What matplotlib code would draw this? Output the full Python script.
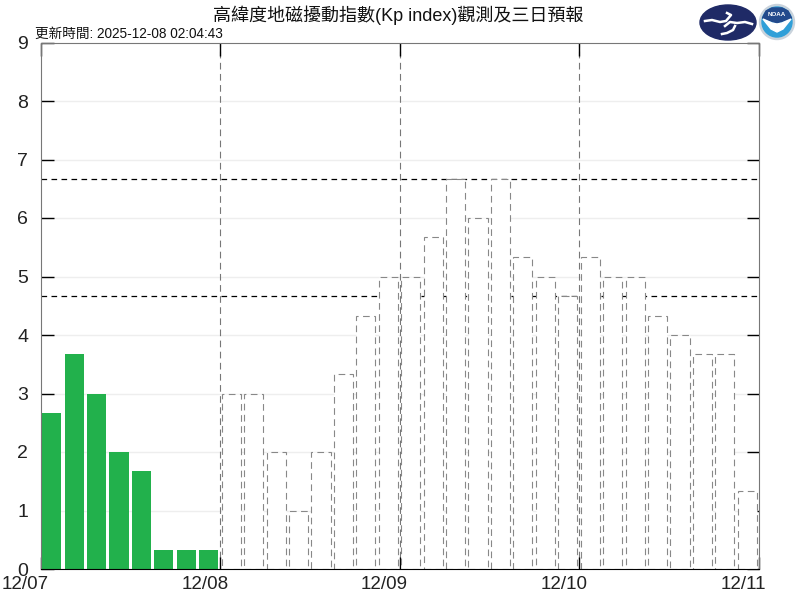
import matplotlib
matplotlib.use("Agg")
import matplotlib.pyplot as plt
from matplotlib.patches import Ellipse, Circle, Polygon
from matplotlib.transforms import ScaledTranslation

plt.rcParams["font.family"] = ["Liberation Sans", "Noto Sans CJK TC", "DejaVu Sans"]

title = "高緯度地磁擾動指數(Kp index)觀測及三日預報"
updated = "更新時間: 2025-12-08 02:04:43"
day_labels = ["12/07", "12/08", "12/09", "12/10", "12/11"]
observed = [2.67, 3.67, 3.0, 2.0, 1.67, 0.33, 0.33, 0.33]
forecast = [3.0, 3.0, 2.0, 1.0, 2.0, 3.33, 4.33, 5.0,
            5.0, 5.67, 6.67, 6.0, 6.67, 5.33, 5.0, 4.67,
            5.33, 5.0, 5.0, 4.33, 4.0, 3.67, 3.67, 1.33]
storm_levels = [4.67, 6.67]

fig = plt.figure(figsize=(8, 6), dpi=100)
ax = fig.add_axes([40.5 / 800, 1 - 569 / 600, 718 / 800, 526.5 / 600])
ax.set_axisbelow(True)

x_obs = [i + 0.5 for i in range(len(observed))]
x_fc = [i + 8.5 for i in range(len(forecast))]

# light grid first, the bars paint over it
for y in range(1, 9):
    ax.axhline(y, color="#eeeeee", lw=1, zorder=0.3)
for y in storm_levels:
    ax.axhline(y, color="black", lw=0.9, dashes=(4.5, 3.5), zorder=2)

ax.bar(x_obs, observed, width=0.85, color="#22b14c", zorder=3)
ax.bar(x_fc, forecast, width=0.85, facecolor="white", edgecolor="#888888",
       lw=0.8, ls=(0, (6, 4)), zorder=3)

for x in [8, 16, 24]:
    ax.axvline(x, color="#777777", lw=0.8, dashes=(6, 4), zorder=0.4)

ax.set_xlim(0, 32)
ax.set_ylim(0, 9)
ax.set_yticks(range(10))
ax.set_xticks([0, 8, 16, 24, 32], day_labels)
ax.tick_params(axis="y", direction="in", length=9, width=1, labelsize=14, pad=9,
               colors="black", labelcolor="#222222", right=True)
ax.tick_params(axis="x", direction="in", length=9, width=1, labelsize=13.5, pad=5,
               colors="black", labelcolor="#222222", top=True)
# date labels sit left of their ticks
shift = ScaledTranslation(-15 / 100, 0, fig.dpi_scale_trans)
for lab in ax.get_xticklabels():
    lab.set_transform(lab.get_transform() + shift)
for side in ["left", "top", "right"]:
    ax.spines[side].set_color("#777777")
ax.spines["bottom"].set_color("black")
for side in ax.spines:
    ax.spines[side].set_zorder(5)

fig.text(398 / 800, 1 - 15 / 600, title, ha="center", va="center", fontsize=13,
         color="#111111")
fig.text(35 / 800, 1 - 33.5 / 600, updated, ha="left", va="center", fontsize=9.8,
         color="#111111")

# logos, rough shapes in an overlay axes with pixel coordinates
logo = fig.add_axes([0, 0, 1, 1])
logo.set_xlim(0, 800)
logo.set_ylim(600, 0)
logo.axis("off")
logo.patch.set_alpha(0)
logo.add_patch(Ellipse((728, 22.5), 56, 35, color="#1f2a66"))
logo.plot([705, 712, 720, 726, 731, 727], [21, 20, 22, 21, 15, 13], color="white", lw=1.8)
logo.plot([725, 730, 737, 745, 752], [26, 22, 23, 22, 24], color="white", lw=1.8)
logo.plot([722, 727, 733, 735], [34, 33, 30, 26], color="white", lw=1.8)
logo.add_patch(Circle((777, 22), 17.5, color="#c9d3dc"))
logo.add_patch(Circle((777, 22), 15, color="#2f9fd8"))
logo.add_patch(Polygon([[762.5, 18], [766, 11], [772, 8], [782, 8], [788, 11], [791.5, 18], [777, 23]],
                       color="#234a8c"))
logo.add_patch(Polygon([[763, 19], [771, 29], [777, 32], [783, 29], [791, 19], [782, 23], [777, 24], [772, 23]],
                       color="white"))
logo.text(777, 15, "NOAA", color="white", fontsize=4.5, fontweight="bold", ha="center", va="center")

fig.savefig("out.png", dpi=100)
